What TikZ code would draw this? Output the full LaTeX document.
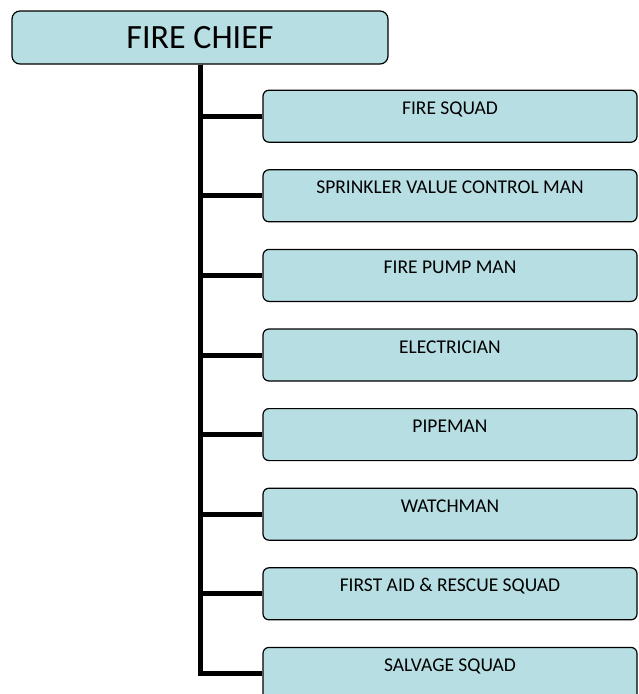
\documentclass[tikz,border=0pt]{standalone}
\usepackage{fontspec}
\setsansfont{Carlito}
\usetikzlibrary{positioning}
\definecolor{boxblue}{RGB}{183,222,227}
\definecolor{linkblack}{RGB}{0,0,0}

\begin{document}
\begin{tikzpicture}[
  x=1pt, y=1pt,
  font=\sffamily,
  chief/.style={
    rectangle,
    rounded corners=8pt,
    draw=black,
    line width=1.2pt,
    fill=boxblue,
    minimum width=376pt,
    minimum height=53pt,
    inner sep=0pt,
    font=\sffamily\fontsize{34}{40}\selectfont
  },
  unit/.style={
    rectangle,
    rounded corners=6pt,
    draw=black,
    line width=1.2pt,
    fill=boxblue,
    minimum width=374pt,
    inner xsep=0pt,
    inner ysep=11.4pt,
    text height=12.6pt,
    text depth=16.6pt,
    font=\sffamily\fontsize{19.5}{23}\selectfont
  },
  link/.style={line width=5pt, draw=linkblack}
]
\useasboundingbox (0,0) rectangle (638,-694);
\clip (0,0) rectangle (638,-694);

\node[chief] (chief) at (200,-37.5) {FIRE CHIEF};

\node[unit, below right=25pt and 251pt of chief.south west] (squad) {FIRE SQUAD};
\node[unit, below=26.4pt of squad] (sprinkler) {SPRINKLER VALUE CONTROL MAN};
\node[unit, below=26.4pt of sprinkler] (pump) {FIRE PUMP MAN};
\node[unit, below=26.4pt of pump] (electrician) {ELECTRICIAN};
\node[unit, below=26.4pt of electrician] (pipeman) {PIPEMAN};
\node[unit, below=26.4pt of pipeman] (watchman) {WATCHMAN};
\node[unit, below=26.4pt of watchman] (rescue) {FIRST AID \& RESCUE SQUAD};
\node[unit, below=26.4pt of rescue] (salvage) {SALVAGE SQUAD};

\foreach \n in {squad,sprinkler,pump,electrician,pipeman,watchman,rescue,salvage}
  \draw[link] (chief.south) |- (\n.west);

\end{tikzpicture}
\end{document}
